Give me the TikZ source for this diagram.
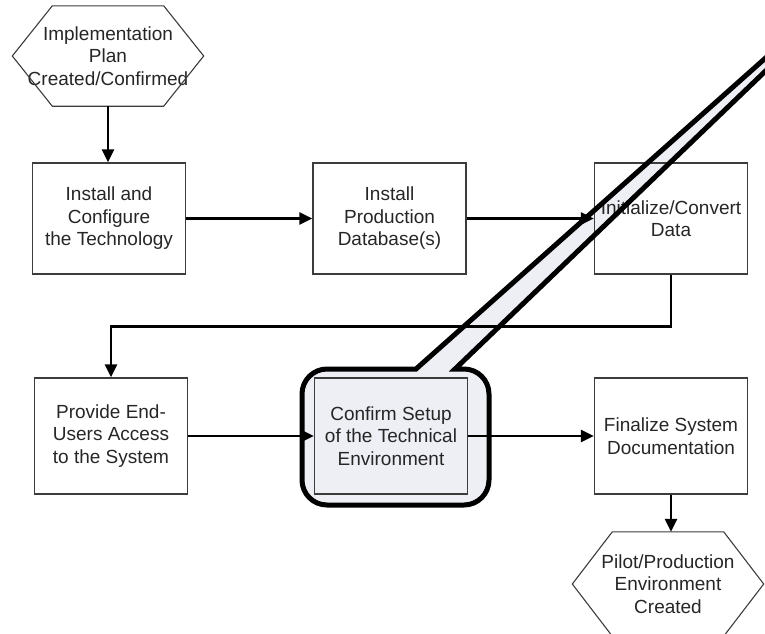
\documentclass[tikz,border=0pt]{standalone}
\usepackage{fontspec}
\setmainfont{Liberation Sans}
\usetikzlibrary{arrows.meta}

\definecolor{calloutfill}{RGB}{238,239,245}
\definecolor{boxline}{RGB}{60,60,60}

\tikzset{
  task/.style={draw=boxline, line width=1.3pt, minimum width=153pt,
    minimum height=113pt, inner sep=0pt, align=center,
    font=\fontsize{19}{22.5}\selectfont, text=black!85},
  milestone/.style={minimum width=191pt, minimum height=100pt, inner sep=0pt,
    align=center, font=\fontsize{19}{22.5}\selectfont, text=black!85},
  hexline/.style={draw=boxline, line width=1.1pt},
  flow/.style={line width=2.4pt, -{Triangle[length=13pt,width=12pt]}},
}

\begin{document}
\begin{tikzpicture}[x=1pt,y=-1pt]
  \useasboundingbox (0,0) rectangle (765,633);
  \clip (0,0) rectangle (765,633);

  % callout round the highlighted step: fill first, outline last
  \path[save path=\calloutpath]
    (951,-107) -- (416,369) -- (327,369) arc(270:180:25) -- (302,480) arc(180:90:25)
    -- (464,505) arc(90:0:25) -- (489,394) arc(0:-90:25) -- (455,369) -- cycle;
  \fill[calloutfill, use path=\calloutpath];

  % milestones
  \node[milestone] (plan) at (108,56) {Implementation\\Plan\\Created/Confirmed};
  \draw[hexline] (plan.west) -- ([xshift=40]plan.north west) -- ([xshift=-40]plan.north east)
    -- (plan.east) -- ([xshift=-40]plan.south east) -- ([xshift=40]plan.south west) -- cycle;
  \node[milestone, minimum height=104pt] (pilot) at (668,584) {Pilot/Production\\Environment\\Created};
  \draw[hexline] (pilot.west) -- ([xshift=40]pilot.north west) -- ([xshift=-40]pilot.north east)
    -- (pilot.east) -- ([xshift=-40]pilot.south east) -- ([xshift=40]pilot.south west) -- cycle;

  % steps
  \node[task, minimum height=111pt] (install) at (109,218.5) {Install and\\Configure\\the Technology};
  \node[task, minimum height=111pt] (database) at (389.5,218.5) {Install\\Production\\Database(s)};
  \node[task, minimum height=111pt] (convert) at (671,218.5) {Initialize/Convert\\Data};
  \node[task, minimum height=116pt] (access) at (111,436) {Provide End-\\Users Access\\to the System};
  \node[task, minimum height=116pt] (confirm) at (391,436) {Confirm Setup\\of the Technical\\Environment};
  \node[task, minimum height=116pt] (document) at (671,436) {Finalize System\\Documentation};

  % connectors
  \draw[flow] (plan.south) -- (plan.south |- install.north);
  \draw[flow] (install) -- (database);
  \draw[flow] (database) -- (convert);
  \draw[flow] (convert.south) -- ++(0,52) -| (access.north);
  \draw[flow] (access) -- (confirm);
  \draw[flow] (confirm) -- (document);
  \draw[flow] (document.south) -- (document.south |- pilot.north);

  \draw[line width=5pt, use path=\calloutpath];
\end{tikzpicture}
\end{document}
